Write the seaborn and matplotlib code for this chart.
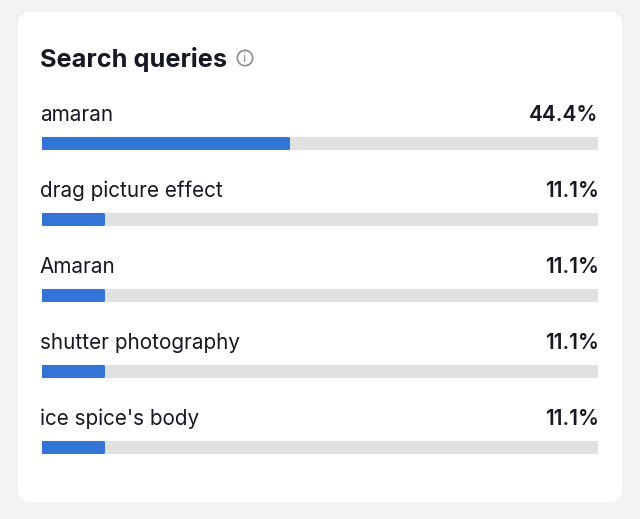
import matplotlib
matplotlib.use("Agg")
import matplotlib.pyplot as plt
from matplotlib.patches import FancyBboxPatch, Circle
import seaborn as sns

queries = ["amaran", "drag picture effect", "Amaran", "shutter photography", "ice spice's body"]
shares = [44.4, 11.1, 11.1, 11.1, 11.1]
share_labels = ["44.4%", "11.1%", "11.1%", "11.1%", "11.1%"]
title = "Search queries"
track_values = [100] * len(queries)

sns.set_theme(style="white")
plt.rcParams["font.family"] = ["Inter", "DejaVu Sans"]

W, H = 640, 519
fig = plt.figure(figsize=(W / 100, H / 100), dpi=100)
fig.patch.set_facecolor("#f3f3f3")

# card
card = FancyBboxPatch((17 / W, (H - 503) / H), (623 - 17) / W, (503 - 11) / H,
                      boxstyle="round,pad=0,rounding_size=0.022",
                      transform=fig.transFigure, facecolor="white", edgecolor="#ececec",
                      linewidth=0.6, mutation_aspect=W / H, zorder=-10)
fig.patches.append(card)

# title + info icon
fig.text(40 / W, (H - 60) / H, title, fontsize=18.2, fontweight="bold",
         color="#161823", va="center", ha="left")
icon_ax = fig.add_axes([236 / W, (H - 67) / H, 18 / W, 18 / H])
icon_ax.set_xlim(-1, 1); icon_ax.set_ylim(-1, 1); icon_ax.set_aspect("equal")
icon_ax.axis("off")
icon_ax.add_patch(Circle((0, 0), 0.85, fill=False, edgecolor="#8a8b91", linewidth=1.2))
icon_ax.text(0, -0.05, "i", ha="center", va="center", fontsize=8.5, color="#8a8b91",
             family="DejaVu Sans")

# bars axes
top_px, bot_px = 86, 485
left_px, right_px = 41.5, 597.5
ax = fig.add_axes([left_px / W, (H - bot_px) / H, (right_px - left_px) / W, (bot_px - top_px) / H])
ax.set_facecolor("none")

bar_h = 0.14
sns.barplot(x=track_values, y=queries, orient="h", color="#e1e1e1", width=bar_h,
            edgecolor="#e1e1e1", linewidth=2.2, saturation=1, ax=ax)
sns.barplot(x=shares, y=queries, orient="h", color="#3274d8", width=bar_h,
            edgecolor="#3274d8", linewidth=2.2, saturation=1, ax=ax)
for p in ax.patches:
    p.set_joinstyle("round")

ax.set_xlim(0, 100)
ax.set_ylim(4.5, -0.75)
ax.axis("off")

for i, (q, lab) in enumerate(zip(queries, share_labels)):
    ax.text(-0.3, i - 0.37, q, ha="left", va="center", fontsize=14.9, color="#161823")
    ax.text(100.2, i - 0.37, lab, ha="right", va="center", fontsize=15,
            fontweight="semibold", color="#161823")

fig.savefig("out.png", dpi=100, facecolor=fig.get_facecolor())
